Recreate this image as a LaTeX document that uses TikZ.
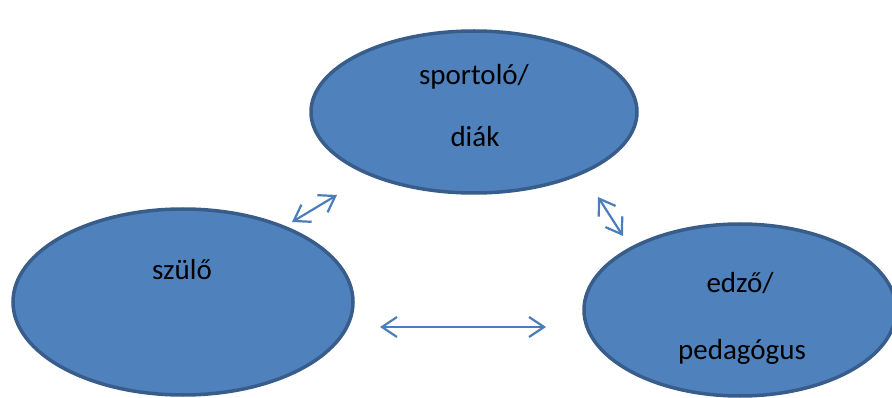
\documentclass[tikz,border=0pt]{standalone}
\usepackage{fontspec}
\setmainfont{Carlito}
\usetikzlibrary{shapes.geometric,arrows.meta}
\definecolor{fillblue}{HTML}{4F81BD}
\definecolor{edgeblue}{HTML}{385D8A}
\definecolor{arrowblue}{HTML}{4A7EBB}
\tikzset{
  bubble/.style={ellipse,draw=edgeblue,fill=fillblue,line width=3.5pt,inner sep=0pt},
  lbl/.style={font=\fontsize{29}{34}\selectfont,text=black,inner sep=0pt},
  link/.style={draw=arrowblue,line width=2.2pt,
    {Straight Barb[length=15pt,width=20pt,line width=2.2pt]}-{Straight Barb[length=15pt,width=20pt,line width=2.2pt]}}
}
\begin{document}
\begin{tikzpicture}[x=1pt,y=-1pt]
\useasboundingbox (0,0) rectangle (892,398);
\node[bubble,minimum width=326pt,minimum height=162pt] (top) at (474,112) {};
\node[bubble,minimum width=340pt,minimum height=186pt] (left) at (183,302) {};
\node[bubble,minimum width=312pt,minimum height=172pt] (right) at (740,310) {};
\node[lbl] (t1) at (474,77) {sportoló/};
\node[lbl] (t2) at (475,137) {diák};
\node[lbl] (l1) at (182,270) {szülő};
\node[lbl] (r1) at (740,283) {edző/};
\node[lbl] (r2) at (742,352) {pedagógus};
\coordinate (a1) at (292,222);
\coordinate (a2) at (337,195);
\coordinate (b1) at (598,197);
\coordinate (b2) at (623,236);
\coordinate (c1) at (380,327);
\coordinate (c2) at (546,327);
\draw[link] (a1) -- (a2);
\draw[link] (b1) -- (b2);
\draw[link] (c1) -- (c2);
\end{tikzpicture}
\end{document}
